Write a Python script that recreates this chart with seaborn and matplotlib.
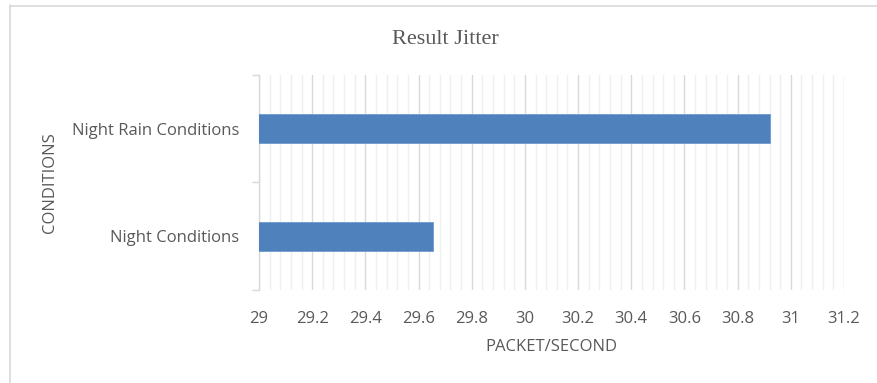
import matplotlib
matplotlib.use("Agg")
import matplotlib.pyplot as plt
from matplotlib.lines import Line2D
import numpy as np
import pandas as pd
import seaborn as sns

# Jitter measurements per condition (packets/second)
conditions = ["Night Rain Conditions", "Night Conditions"]
jitter = [30.92, 29.655]
x_ticks = [29, 29.2, 29.4, 29.6, 29.8, 30, 30.2, 30.4, 30.6, 30.8, 31, 31.2]

df = pd.DataFrame({"condition": conditions, "jitter": jitter})

sns.set_theme(style="white")
plt.rcParams["font.family"] = ["Open Sans", "DejaVu Sans"]

text_gray = "#595959"
grid_major = "#d9d9d9"
grid_minor = "#efefef"

fig = plt.figure(figsize=(8.77, 3.83), dpi=100)
ax = fig.add_axes([0.2953, 0.2428, 0.6671, 0.5614])

sns.barplot(data=df, x="jitter", y="condition", order=conditions,
            orient="h", color="#4F81BD", width=0.27, saturation=1,
            edgecolor="#6f9bd0", linewidth=0.6, ax=ax, zorder=3)

ax.set_xlim(29, 31.2)
ax.set_ylim(1.5, -0.5)
ax.set_xticks(x_ticks)
ax.set_xticklabels([f"{t:g}" for t in x_ticks])
ax.set_xticks(np.arange(29, 31.2001, 0.04), minor=True)
ax.grid(axis="x", which="minor", color=grid_minor, linewidth=1.0, zorder=0)
ax.grid(axis="x", which="major", color=grid_major, linewidth=1.0, zorder=0)
ax.set_axisbelow(True)

for side in ("top", "right", "bottom"):
    ax.spines[side].set_visible(False)
ax.spines["left"].set_color(grid_major)
ax.spines["left"].set_linewidth(1.0)

ax.set_yticks([-0.5, 0.5, 1.5], minor=True)
ax.tick_params(axis="y", which="minor", length=5, width=1.0,
               color=grid_major, left=True)
ax.tick_params(axis="y", which="major", length=0, pad=14,
               labelsize=12, labelcolor=text_gray)
ax.tick_params(axis="x", which="both", length=0, pad=15,
               labelsize=12, labelcolor=text_gray)

ax.set_xlabel("PACKET/SECOND", fontsize=12, color=text_gray, labelpad=9)
ax.set_ylabel("CONDITIONS", fontsize=12, color=text_gray, labelpad=10)

fig.text(0.5075, 0.898, "Result Jitter", ha="center", va="center",
         fontsize=16, color=text_gray, family=["Liberation Serif", "DejaVu Serif"])

# Chart area frame
fig.add_artist(Line2D([9.5 / 877, 9.5 / 877], [0, 1 - 5 / 383],
                      transform=fig.transFigure, color="#d9d9d9", linewidth=1.2))
fig.add_artist(Line2D([9.5 / 877, 1], [1 - 5.5 / 383, 1 - 5.5 / 383],
                      transform=fig.transFigure, color="#d9d9d9", linewidth=1.2))

fig.savefig("out.png", dpi=100, facecolor="white")
